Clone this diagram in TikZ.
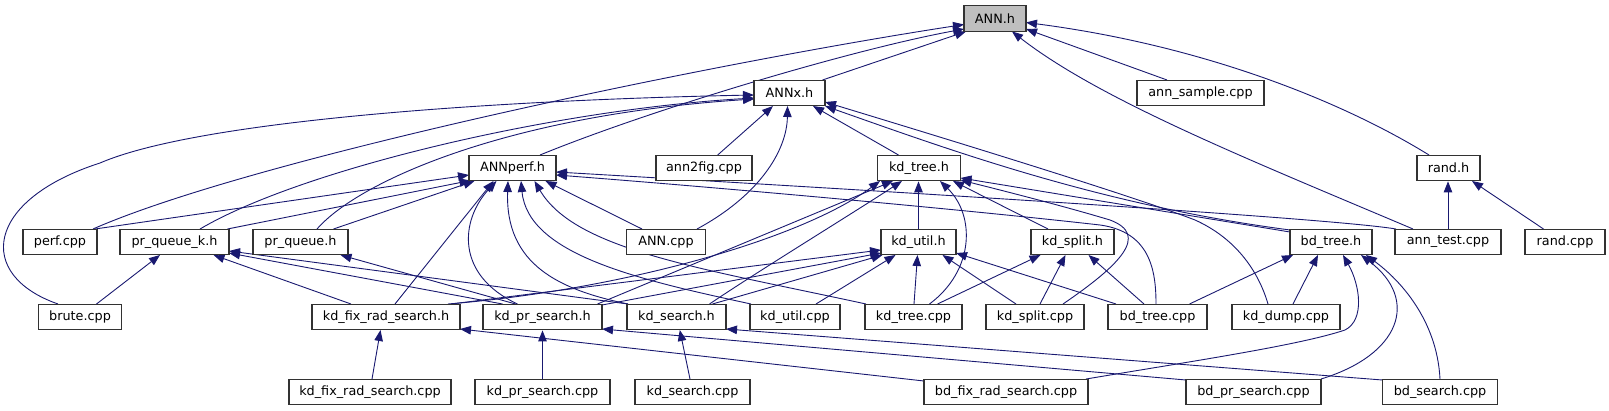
\documentclass[tikz,border=0pt]{standalone}
\usepackage{fontspec}
\setmainfont{DejaVu Sans}
\usetikzlibrary{arrows.meta,calc}
\definecolor{mblue}{RGB}{25,25,112}
\definecolor{boxline}{RGB}{50,50,50}
\pgfdeclarelayer{bg}
\pgfsetlayers{bg,main}
\tikzset{
  box/.style={draw=boxline, line width=1.25pt, fill=white, minimum height=25.5pt,
    inner sep=0pt, font=\fontsize{12.8}{15}\selectfont},
  edge/.style={draw=mblue, line width=0.9pt, -{Triangle[length=11pt,width=8.5pt]}, fill=none}
}
\begin{document}
\begin{tikzpicture}[x=1pt,y=-1pt]
\useasboundingbox (0,0) rectangle (1609,411);
% row 1
\node[box, minimum width=62pt, fill=gray!50] (ANNh) at (995,18.5) {ANN.h};
% row 2
\node[box, minimum width=71pt] (ANNxh) at (789.5,93) {ANNx.h};
\node[box, minimum width=127pt] (annsample) at (1200.5,93) {ann\_sample.cpp};
% row 3
\node[box, minimum width=87pt] (ANNperf) at (512.5,168) {ANNperf.h};
\node[box, minimum width=96pt] (ann2fig) at (704,168) {ann2fig.cpp};
\node[box, minimum width=83pt] (kdtreeh) at (919,168) {kd\_tree.h};
\node[box, minimum width=63pt] (randh) at (1448.5,168) {rand.h};
% row 4
\node[box, minimum width=74pt] (perfcpp) at (60,242) {perf.cpp};
\node[box, minimum width=109pt] (prqk) at (174.5,242) {pr\_queue\_k.h};
\node[box, minimum width=95pt] (prq) at (300.5,242) {pr\_queue.h};
\node[box, minimum width=79pt] (ANNcpp) at (666,242) {ANN.cpp};
\node[box, minimum width=75pt] (kdutilh) at (918.5,242) {kd\_util.h};
\node[box, minimum width=83pt] (kdsplith) at (1072.5,242) {kd\_split.h};
\node[box, minimum width=82pt] (bdtreeh) at (1331,242) {bd\_tree.h};
\node[box, minimum width=106pt] (anntest) at (1448,242) {ann\_test.cpp};
\node[box, minimum width=80pt] (randcpp) at (1565,242) {rand.cpp};
% row 5
\node[box, minimum width=83pt] (brute) at (80,317) {brute.cpp};
\node[box, minimum width=148pt] (kdfrh) at (386,317) {kd\_fix\_rad\_search.h};
\node[box, minimum width=119pt] (kdprh) at (542.5,317) {kd\_pr\_search.h};
\node[box, minimum width=99pt] (kdsh) at (676.5,317) {kd\_search.h};
\node[box, minimum width=90pt] (kdutilcpp) at (795,317) {kd\_util.cpp};
\node[box, minimum width=97pt] (kdtreecpp) at (913.5,317) {kd\_tree.cpp};
\node[box, minimum width=98pt] (kdsplitcpp) at (1035,317) {kd\_split.cpp};
\node[box, minimum width=99pt] (bdtreecpp) at (1157.5,317) {bd\_tree.cpp};
\node[box, minimum width=108pt] (kddump) at (1286,317) {kd\_dump.cpp};
% row 6
\node[box, minimum width=162pt] (kdfrcpp) at (370,392) {kd\_fix\_rad\_search.cpp};
\node[box, minimum width=135pt] (kdprcpp) at (542.5,392) {kd\_pr\_search.cpp};
\node[box, minimum width=115pt] (kdscpp) at (692.5,392) {kd\_search.cpp};
\node[box, minimum width=164pt] (bdfrcpp) at (1006,392) {bd\_fix\_rad\_search.cpp};
\node[box, minimum width=135pt] (bdprcpp) at (1253.5,392) {bd\_pr\_search.cpp};
\node[box, minimum width=115pt] (bdscpp) at (1440,392) {bd\_search.cpp};

\begin{pgfonlayer}{bg}
% to ANN.h
\draw[edge] ($(ANNxh)+(33,-13)$) -- ($(ANNh)+(-29,13)$);
\draw[edge] ($(ANNperf)+(27.5,-13)$) .. controls (650,110) and (850,50) .. ($(ANNh)+(-31,10.5)$);
\draw[edge] ($(perfcpp)+(33,-13)$) .. controls (250,160) and (700,65) .. ($(ANNh)+(-31,6)$);
\draw[edge] ($(annsample)+(-33.5,-13)$) -- ($(ANNh)+(31,10.5)$);
\draw[edge] ($(randh)+(-19.5,-13)$) .. controls (1340,100) and (1200,45) .. ($(ANNh)+(31,4)$);
\draw[edge] ($(anntest)+(-35,-13)$) .. controls (1250,160) and (1100,100) .. ($(ANNh)+(17,13)$);
% to ANNx.h
\draw[edge] ($(brute)+(-22,-13)$) .. controls (-25,275) and (-15,200) .. (100,163) .. controls (200,120) and (500,100) .. ($(ANNxh)+(-35.5,2)$);
\draw[edge] ($(prqk)+(25.5,-13)$) .. controls (300,170) and (550,110) .. ($(ANNxh)+(-35.5,5)$);
\draw[edge] ($(prq)+(16.5,-13)$) .. controls (360,180) and (510,115) .. ($(ANNxh)+(-35.5,6)$);
\draw[edge] ($(ann2fig)+(13.7,-13)$) -- ($(ANNxh)+(-16.5,13)$);
\draw[edge] ($(ANNcpp)+(31,-13)$) .. controls (760,195) and (787,150) .. ($(ANNxh)+(-2,13)$);
\draw[edge] ($(kdtreeh)+(-20.5,-13)$) -- ($(ANNxh)+(23.5,13)$);
\draw[edge] ($(bdtreeh)+(-41,-12)$) .. controls (1100,205) and (950,150) .. ($(ANNxh)+(35.5,13)$);
\draw[edge] ($(kddump)+(-18,-13)$) .. controls (1258,270) and (1235,238) .. (1195,220) .. controls (1130,195) and (950,140) .. ($(ANNxh)+(35.5,9)$);
% to ANNperf.h
\draw[edge] ($(perfcpp)+(35,-13)$) -- ($(ANNperf)+(-43.5,7)$);
\draw[edge] ($(prqk)+(53,-13)$) -- ($(ANNperf)+(-42,12.5)$);
\draw[edge] ($(prq)+(33,-13)$) -- ($(ANNperf)+(-38,13)$);
\draw[edge] ($(kdfrh)+(9,-13)$) -- ($(ANNperf)+(-19,13)$);
\draw[edge] ($(kdprh)+(-25,-13)$) .. controls (455,275) and (460,220) .. ($(ANNperf)+(-16,13)$);
\draw[edge] ($(kdsh)+(-48.5,-13)$) .. controls (560,290) and (505,265) .. ($(ANNperf)+(-4.5,13)$);
\draw[edge] ($(kdutilcpp)+(-44,-13)$) .. controls (640,280) and (528,255) .. ($(ANNperf)+(8.5,13)$);
\draw[edge] ($(kdtreecpp)+(-47.5,-13)$) .. controls (700,268) and (575,250) .. ($(ANNperf)+(22,13)$);
\draw[edge] ($(ANNcpp)+(-24,-13)$) -- ($(ANNperf)+(33,13)$);
\draw[edge] ($(anntest)+(-52,-13)$) .. controls (1330,218) and (900,192) .. ($(ANNperf)+(43.5,4)$);
\draw[edge] ($(bdtreecpp)+(-1.5,-13)$) .. controls (1156,270) and (1150,232) .. (1100,225) .. controls (950,208) and (700,186) .. ($(ANNperf)+(43.5,7)$);
% to rand.h
\draw[edge] (anntest.north) -- (anntest.north |- randh.south);
\draw[edge] ($(randcpp)+(-21.5,-13)$) -- ($(randh)+(23.5,13)$);
% to kd_tree.h
\draw[edge] ($(bdtreeh)+(-41,-10)$) -- ($(kdtreeh)+(41.5,10)$);
\draw[edge] ($(kdsplitcpp)+(28,-13)$) .. controls (1120,265) and (1150,235) .. (1110,220) .. controls (1060,205) and (1000,190) .. ($(kdtreeh)+(41.5,12)$);
\draw[edge] ($(kdtreecpp)+(16,-13)$) .. controls (975,270) and (975,215) .. ($(kdtreeh)+(21,13)$);
\draw[edge] (kdutilh.north) -- (kdutilh.north |- kdtreeh.south);
\draw[edge] ($(kdsplith)+(-24.5,-13)$) -- ($(kdtreeh)+(34,13)$);
\draw[edge] ($(kdfrh)+(62,-13)$) .. controls (620,290) and (800,240) .. ($(kdtreeh)+(-39,13)$);
\draw[edge] ($(kdprh)+(55,-13)$) -- ($(kdtreeh)+(-26,13)$);
\draw[edge] ($(kdsh)+(33,-13)$) .. controls (760,270) and (850,215) .. ($(kdtreeh)+(-17,13)$);
% to kd_util.h
\draw[edge] ($(kdfrh)+(65,-13)$) -- ($(kdutilh)+(-37.5,8)$);
\draw[edge] ($(kdprh)+(59.5,-12)$) -- ($(kdutilh)+(-37.5,11)$);
\draw[edge] ($(kdsh)+(36,-13)$) -- ($(kdutilh)+(-36,13)$);
\draw[edge] ($(kdutilcpp)+(21,-13)$) -- ($(kdutilh)+(-23,13)$);
\draw[edge] ($(kdtreecpp)+(0.5,-13)$) -- ($(kdutilh)+(-1,13)$);
\draw[edge] ($(kdsplitcpp)+(-19,-13)$) -- ($(kdutilh)+(24,13)$);
\draw[edge] ($(bdtreecpp)+(-41.5,-13)$) -- ($(kdutilh)+(37.5,11)$);
% to kd_split.h
\draw[edge] ($(kdtreecpp)+(24,-13)$) -- ($(kdsplith)+(-32,13)$);
\draw[edge] ($(kdsplitcpp)+(5,-13)$) -- ($(kdsplith)+(-7,13)$);
\draw[edge] ($(bdtreecpp)+(-13.5,-13)$) -- ($(kdsplith)+(16,13)$);
% to bd_tree.h
\draw[edge] ($(bdtreecpp)+(32,-13)$) -- ($(bdtreeh)+(-38,13)$);
\draw[edge] ($(kddump)+(7,-13)$) -- ($(bdtreeh)+(-13,13)$);
\draw[edge] ($(bdfrcpp)+(80,-13)$) .. controls (1200,360) and (1300,345) .. (1345,330) .. controls (1365,320) and (1360,285) .. ($(bdtreeh)+(12,13)$);
\draw[edge] ($(bdprcpp)+(67.5,-13)$) .. controls (1400,355) and (1420,300) .. ($(bdtreeh)+(30,13)$);
\draw[edge] ($(bdscpp)+(0,-13)$) .. controls (1437,320) and (1400,280) .. ($(bdtreeh)+(35,13)$);
% search headers
\draw[edge] ($(kdfrcpp)+(2,-13)$) -- ($(kdfrh)+(-5.5,13)$);
\draw[edge] (kdprcpp.north) -- (kdprcpp.north |- kdprh.south);
\draw[edge] ($(kdscpp)+(-2.5,-13)$) -- ($(kdsh)+(3.3,13)$);
\draw[edge] ($(bdfrcpp)+(-82,-11)$) -- ($(kdfrh)+(74,12)$);
\draw[edge] ($(bdprcpp)+(-67.5,-12)$) -- ($(kdprh)+(59.5,12)$);
\draw[edge] ($(bdscpp)+(-57.5,-12)$) -- ($(kdsh)+(49.5,12)$);
% to pr_queue_k.h / pr_queue.h
\draw[edge] ($(brute)+(16.5,-13)$) -- ($(prqk)+(-14.5,13)$);
\draw[edge] ($(kdfrh)+(-35,-13)$) -- ($(prqk)+(39,13)$);
\draw[edge] ($(kdprh)+(-40,-13)$) -- ($(prqk)+(54.5,11)$);
\draw[edge] ($(kdsh)+(-48.5,-13)$) -- ($(prqk)+(54.5,9)$);
\draw[edge] ($(kdprh)+(-27,-13)$) -- ($(prq)+(40,13)$);
\end{pgfonlayer}
\end{tikzpicture}
\end{document}
